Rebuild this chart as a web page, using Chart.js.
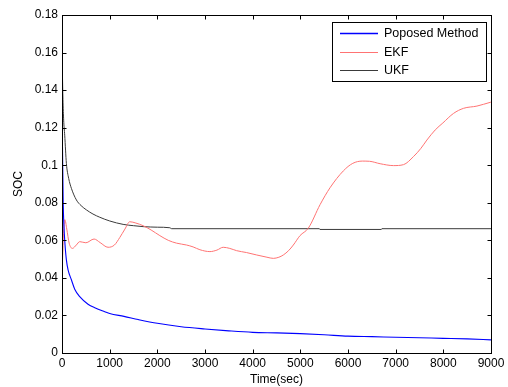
<!DOCTYPE html>
<html>
<head>
<meta charset="utf-8">
<script src="https://cdn.jsdelivr.net/npm/chart.js@4/dist/chart.umd.min.js"></script>
<style>
  html, body { margin: 0; padding: 0; background: #fff; }
  canvas { display: block; }
</style>
</head>
<body>
<canvas id="c" width="508" height="387"></canvas>
<script>
// ---- data ----
const seriesLabels = ["Poposed Method", "EKF", "UKF"];
const seriesColors = ["#0000ff", "#ff7373", "#3a3a3a"];

const proposedTime = [0, 10, 25, 40, 57, 90, 130, 197, 267, 372, 546, 700, 897, 1000, 1300, 1600, 2000, 2500, 3000, 3500, 4000, 4500, 5000, 5500, 6000, 6500, 7000, 7500, 8000, 8500, 9000];
const proposedSoc  = [0.13, 0.11, 0.08, 0.068, 0.06, 0.05, 0.044, 0.039, 0.034, 0.030, 0.026, 0.024, 0.022, 0.021, 0.0195, 0.0178, 0.0158, 0.014, 0.0128, 0.0118, 0.011, 0.0107, 0.0103, 0.0097, 0.009, 0.0087, 0.0084, 0.0081, 0.0078, 0.0075, 0.007];

const ekfTime = [0, 15, 35, 60, 100, 150, 218, 300, 372, 500, 673, 800, 966, 1100, 1212, 1320, 1422, 1550, 1701, 1870, 2053, 2230, 2403, 2613, 2750, 2893, 3103, 3250, 3382, 3520, 3663, 3870, 4084, 4300, 4433, 4550, 4643, 4753, 4853, 4993, 5168, 5414, 5623, 5903, 6100, 6300, 6450, 6674, 6954, 7164, 7374, 7530, 7655, 7830, 7990, 8214, 8424, 8705, 8985, 9000];
const ekfSoc  = [0.042, 0.052, 0.065, 0.071, 0.066, 0.0585, 0.0557, 0.0575, 0.0593, 0.0587, 0.0607, 0.0588, 0.0563, 0.0575, 0.0615, 0.066, 0.0699, 0.0692, 0.0678, 0.0655, 0.0625, 0.060, 0.0585, 0.0575, 0.0565, 0.055, 0.054, 0.0548, 0.0563, 0.0557, 0.0545, 0.0535, 0.0522, 0.051, 0.0504, 0.051, 0.0522, 0.0545, 0.0575, 0.0625, 0.0665, 0.079, 0.088, 0.097, 0.1010, 0.1022, 0.1021, 0.1008, 0.0998, 0.1003, 0.1046, 0.109, 0.1134, 0.1188, 0.1225, 0.1276, 0.1303, 0.1315, 0.1335, 0.1336];

const ukfTime = [0, 8, 20, 35, 57, 92, 140, 197, 302, 400, 513, 650, 792, 1002, 1282, 1500, 1701, 2000, 2263, 2300, 5400, 5410, 6700, 6710, 9000];
const ukfSoc  = [0.162, 0.15, 0.135, 0.124, 0.116, 0.101, 0.093, 0.0877, 0.0815, 0.0785, 0.0762, 0.074, 0.0723, 0.0703, 0.0685, 0.0678, 0.0673, 0.067, 0.0667, 0.0662, 0.0662, 0.0658, 0.0658, 0.0662, 0.0662];

const xTicks = [0, 1000, 2000, 3000, 4000, 5000, 6000, 7000, 8000, 9000];
const yTicks = [0, 0.02, 0.04, 0.06, 0.08, 0.1, 0.12, 0.14, 0.16, 0.18];

const pairs = (t, v) => t.map((x, i) => ({ x: x, y: v[i] }));

const FONT = "'Liberation Sans', Arial, sans-serif";
Chart.defaults.font.family = FONT;
Chart.defaults.font.size = 12;
Chart.defaults.color = '#000';

// frame, inward ticks and legend (MATLAB style)
const matlabFrame = {
  id: 'matlabFrame',
  afterDatasetsDraw(chart) {
    const ctx = chart.ctx;
    const a = chart.chartArea;
    const xs = chart.scales.x, ys = chart.scales.y;
    const L = Math.round(a.left) + 0.5, R = Math.round(a.right) + 0.5;
    const T = Math.round(a.top) + 0.5, B = Math.round(a.bottom) + 0.5;
    ctx.save();
    ctx.strokeStyle = '#000';
    ctx.lineWidth = 1;
    ctx.strokeRect(L, T, R - L, B - T);
    const tl = 4;
    ctx.beginPath();
    xTicks.forEach(v => {
      const px = Math.round(xs.getPixelForValue(v)) + 0.5;
      ctx.moveTo(px, B); ctx.lineTo(px, B - tl);
      ctx.moveTo(px, T); ctx.lineTo(px, T + tl);
    });
    yTicks.forEach(v => {
      const py = Math.round(ys.getPixelForValue(v)) + 0.5;
      ctx.moveTo(L, py); ctx.lineTo(L + tl, py);
      ctx.moveTo(R, py); ctx.lineTo(R - tl, py);
    });
    ctx.stroke();

    // legend
    const bx = 332.5, by = 22.5, bw = 154, bh = 59;
    ctx.fillStyle = '#fff';
    ctx.fillRect(bx, by, bw, bh);
    ctx.strokeStyle = '#000';
    ctx.lineWidth = 1;
    ctx.strokeRect(bx, by, bw, bh);
    const rows = [33, 51.5, 70];
    const widths = [1.3, 1, 1];
    seriesLabels.forEach((lab, i) => {
      ctx.beginPath();
      ctx.strokeStyle = seriesColors[i];
      ctx.lineWidth = widths[i];
      ctx.moveTo(340, Math.round(rows[i]) + 0.5);
      ctx.lineTo(378, Math.round(rows[i]) + 0.5);
      ctx.stroke();
      ctx.fillStyle = '#000';
      ctx.font = '12.5px ' + FONT;
      ctx.textBaseline = 'middle';
      ctx.textAlign = 'left';
      ctx.fillText(lab, 384, rows[i] + 1);
    });
    ctx.restore();
  }
};

new Chart(document.getElementById('c'), {
  type: 'line',
  data: {
    datasets: [
      { label: seriesLabels[0], data: pairs(proposedTime, proposedSoc), borderColor: seriesColors[0], borderWidth: 1.1, pointRadius: 0, cubicInterpolationMode: 'monotone' },
      { label: seriesLabels[1], data: pairs(ekfTime, ekfSoc), borderColor: seriesColors[1], borderWidth: 1, pointRadius: 0, cubicInterpolationMode: 'monotone' },
      { label: seriesLabels[2], data: pairs(ukfTime, ukfSoc), borderColor: seriesColors[2], borderWidth: 1, pointRadius: 0, cubicInterpolationMode: 'monotone' }
    ]
  },
  options: {
    responsive: false,
    animation: false,
    devicePixelRatio: 1,
    layout: { padding: { top: 15, right: 17, left: 0, bottom: 0 } },
    plugins: { legend: { display: false }, tooltip: { enabled: false } },
    scales: {
      x: {
        type: 'linear', min: 0, max: 9000,
        afterFit: s => { s.height = 34; },
        afterBuildTicks: s => { s.ticks = xTicks.map(v => ({ value: v })); },
        ticks: { padding: 3, maxRotation: 0, autoSkip: false, color: '#000', callback: v => String(v) },
        grid: { drawOnChartArea: false, drawTicks: false },
        border: { display: false },
        title: { display: true, text: 'Time(sec)', color: '#000', padding: { top: 0, bottom: 0 }, font: { size: 12 } }
      },
      y: {
        type: 'linear', min: 0, max: 0.18,
        afterFit: s => { s.width = 62; },
        afterBuildTicks: s => { s.ticks = yTicks.map(v => ({ value: v })); },
        ticks: { padding: 4, autoSkip: false, color: '#000', callback: v => String(parseFloat(Number(v).toFixed(2))) },
        grid: { drawOnChartArea: false, drawTicks: false },
        border: { display: false },
        title: { display: true, text: 'SOC', color: '#000', padding: { top: 11, bottom: 0 }, font: { size: 12 } }
      }
    }
  },
  plugins: [matlabFrame]
});
</script>
</body>
</html>
